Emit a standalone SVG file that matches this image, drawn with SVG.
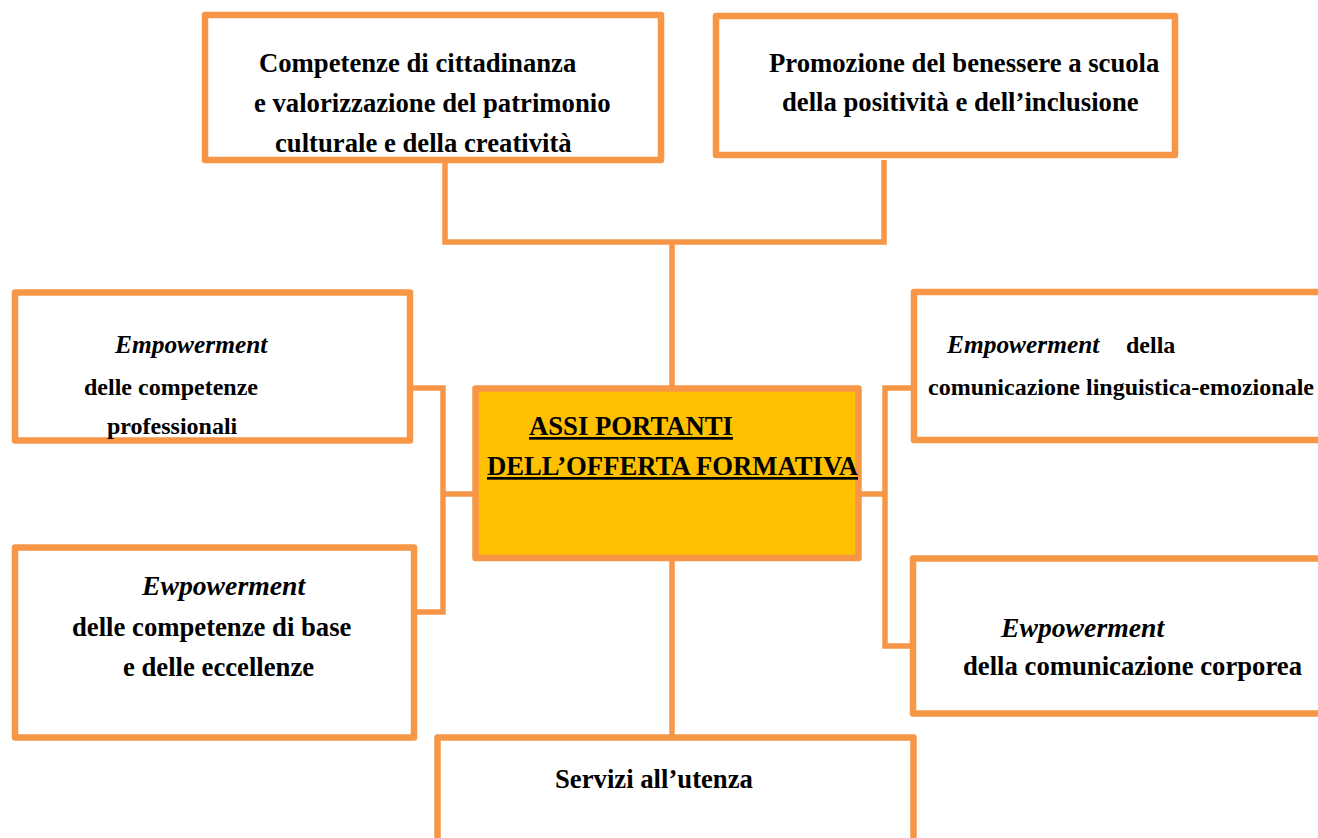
<svg xmlns="http://www.w3.org/2000/svg" width="1318" height="838" viewBox="0 0 1318 838">
<style>
.box{fill:#fff;stroke:#F79646;stroke-width:6.5;stroke-linejoin:round}
.core{fill:#FFC000;stroke:#F79646;stroke-width:6.5;stroke-linejoin:round}
.conn{fill:none;stroke:#F79646;stroke-width:5.5}
text{font-family:"Liberation Serif","Times New Roman",serif;font-weight:bold;fill:#000}
.it{font-style:italic}
.s26{font-size:26.7px}
.s24{font-size:24px}
.e25{font-size:25.4px}
.e28{font-size:27.7px}
</style>
<rect width="1318" height="838" fill="#fff"/>
<g id="connectors">
<path class="conn" d="M445,160 V242 H884 V160"/>
<path class="conn" d="M672,242 V388"/>
<path class="conn" d="M672,558 V737"/>
<path class="conn" d="M410,388 H443 V612 H414"/>
<path class="conn" d="M443,494 H475"/>
<path class="conn" d="M914,388 H885 V646 H913"/>
<path class="conn" d="M885,494 H858"/>
</g>
<g id="node-cittadinanza">
<rect class="box" x="205" y="15" width="456" height="145"/>
<text class="s26" x="259" y="72">Competenze di cittadinanza</text>
<text class="s26" x="254" y="112">e valorizzazione del patrimonio</text>
<text class="s26" x="275" y="152">culturale e della creatività</text>
</g>
<g id="node-benessere">
<rect class="box" x="716" y="16" width="459" height="139"/>
<text class="s26" x="769" y="72">Promozione del benessere a scuola</text>
<text class="s26" x="782" y="111">della positività e dell’inclusione</text>
</g>
<g id="node-assi">
<rect class="core" x="475.5" y="388.5" width="383" height="169.5"/>
<text class="s26" x="529" y="435" text-decoration="underline">ASSI PORTANTI</text>
<text class="s26" x="487" y="475" text-decoration="underline">DELL’OFFERTA FORMATIVA</text>
</g>
<g id="node-professionali">
<rect class="box" x="15" y="292.5" width="395" height="148"/>
<text class="e25 it" x="115" y="353">Empowerment</text>
<text class="s24" x="84" y="395">delle competenze</text>
<text class="s24" x="107" y="434">professionali</text>
</g>
<g id="node-base">
<rect class="box" x="15" y="547.5" width="399" height="190"/>
<text class="e28 it" x="142" y="595">Ewpowerment</text>
<text class="s26" x="72" y="636">delle competenze di base</text>
<text class="s26" x="123" y="676">e delle eccellenze</text>
</g>
<g id="node-linguistica">
<rect class="box" x="914" y="292" width="420" height="148"/>
<text class="s24" x="947" y="353"><tspan class="it e25">Empowerment</tspan><tspan x="1126">della</tspan></text>
<text class="s24" x="928" y="395">comunicazione linguistica-emozionale</text>
</g>
<g id="node-corporea">
<rect class="box" x="913" y="558.5" width="420" height="155"/>
<text class="e28 it" x="1001" y="637">Ewpowerment</text>
<text class="s26" x="963" y="675">della comunicazione corporea</text>
</g>
<g id="node-servizi">
<rect class="box" x="437.5" y="737.5" width="476" height="130"/>
<text class="s26" x="555" y="788">Servizi all’utenza</text>
</g>
</svg>
